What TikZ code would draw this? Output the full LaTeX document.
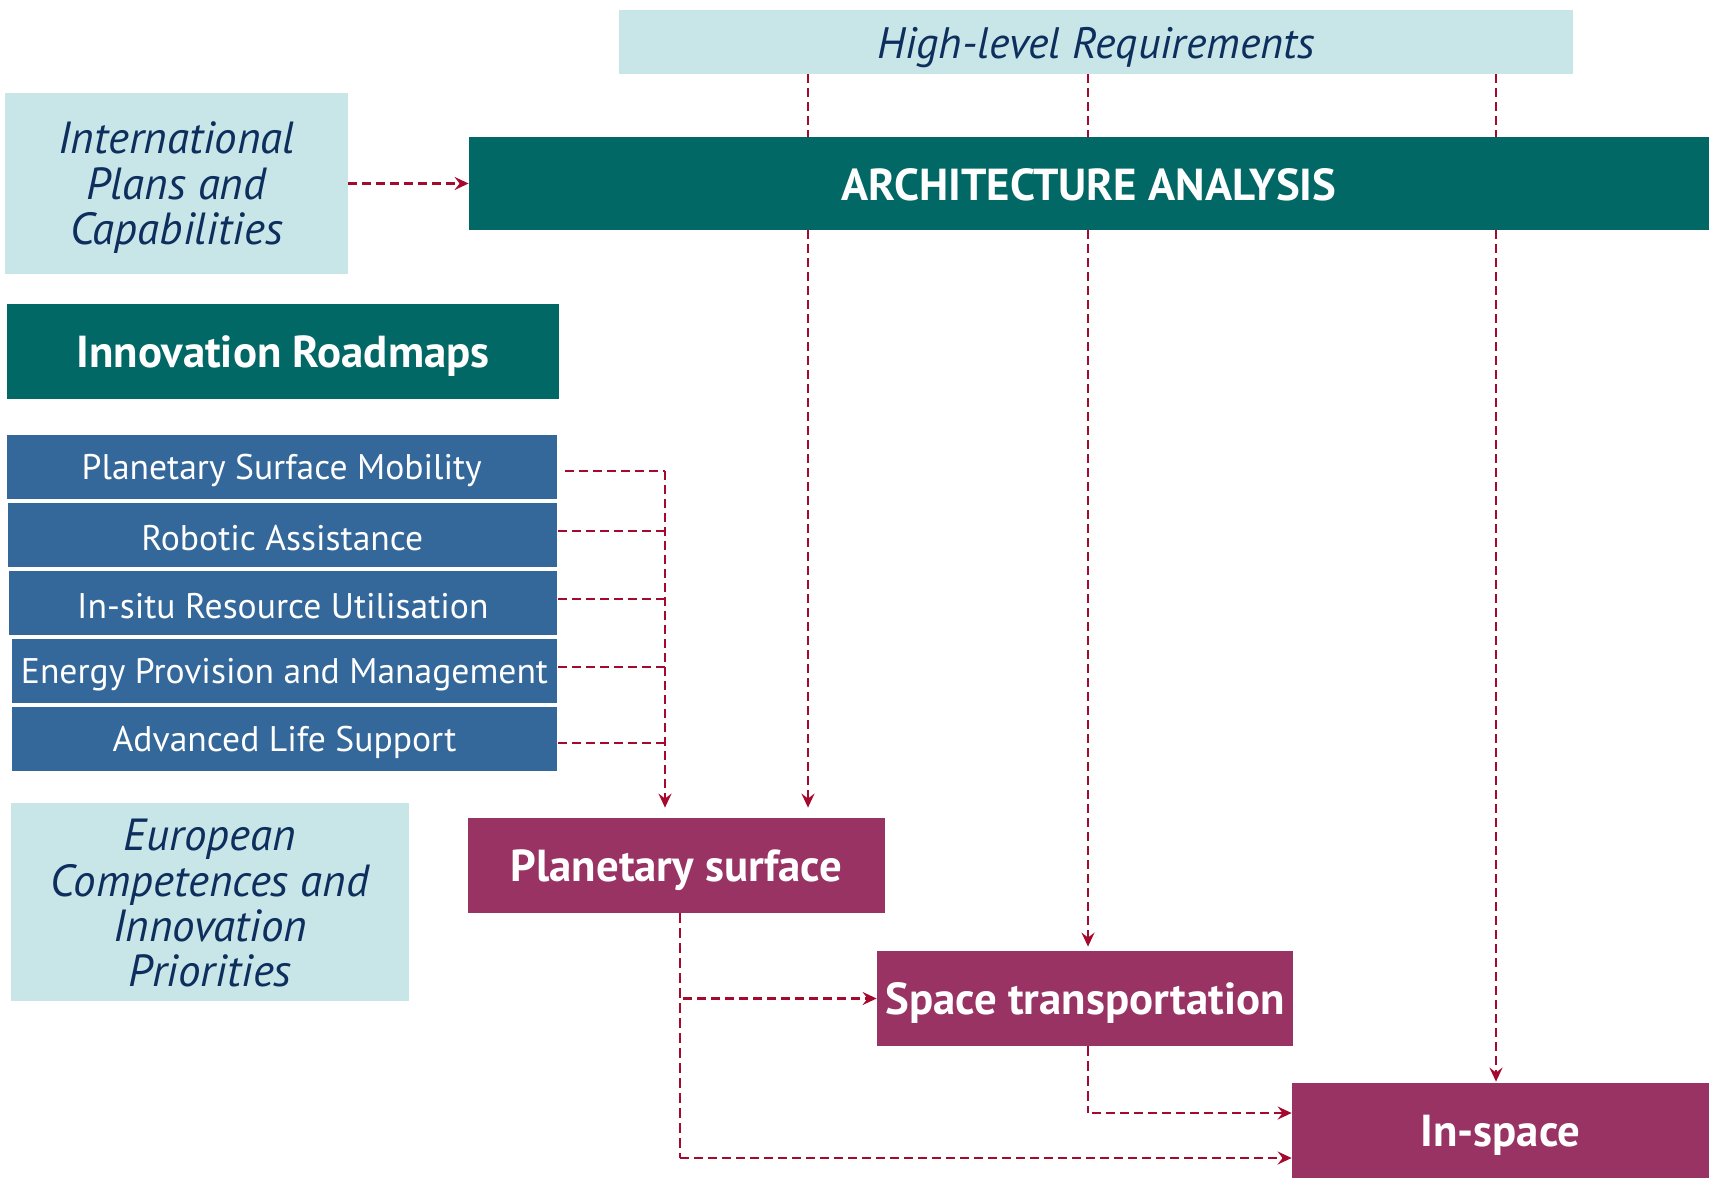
\documentclass[tikz,border=0pt]{standalone}
\usepackage{fontspec}
\setmainfont{PT Sans}
\usetikzlibrary{arrows.meta,calc}
\definecolor{lightc}{HTML}{C8E6E8}
\definecolor{tealc}{HTML}{016865}
\definecolor{bluec}{HTML}{34679A}
\definecolor{magc}{HTML}{983363}
\definecolor{redc}{HTML}{A50A2E}
\definecolor{navyc}{HTML}{0E2F5E}
\newcommand\lowertext[2]{\raisebox{-#1}[\height][\depth]{#2}}
\newcommand\stacklines[1]{\begin{tabular}{@{}c@{}}#1\end{tabular}}
\begin{document}
\begin{tikzpicture}[x=0.5pt,y=-0.5pt,
  box/.style={rectangle, inner sep=0pt, anchor=center, align=center},
  lightbox/.style={box, fill=lightc, text=navyc, font=\fontsize{22.5}{22.5}\selectfont\itshape},
  tealbox/.style={box, fill=tealc, text=white, font=\fontsize{22.4}{24}\selectfont\bfseries},
  bluebox/.style={box, fill=bluec, text=white, minimum height=32pt, font=\fontsize{17.8}{20}\selectfont},
  magbox/.style={box, fill=magc, text=white, minimum width=208.5pt, minimum height=47.5pt, font=\fontsize{22.4}{24}\selectfont\bfseries},
  dline/.style={draw=redc, line width=1.2pt, dash pattern=on 4.5pt off 2.5pt},
  thinline/.style={draw=redc, line width=0.7pt, dash pattern=on 5pt off 2.5pt},
  conn/.style={dline, -{Stealth[length=7pt, width=6.5pt, inset=2.5pt]}},
]
\useasboundingbox (0,0) rectangle (1713,1182);

% nodes
\node[lightbox, minimum width=477pt, minimum height=32pt, font=\fontsize{22}{22}\selectfont\itshape] (hlr) at (1096,42) {\lowertext{2.6pt}{High-level Requirements}};
\node[lightbox, minimum width=171.5pt, minimum height=90.5pt] (intl) at (176.5,183.5) {\lowertext{3.3pt}{\stacklines{International\\Plans and\\Capabilities}}};
\node[tealbox, minimum width=620pt, minimum height=46.5pt] (aa) at (1089,183.5) {\lowertext{0.6pt}{ARCHITECTURE ANALYSIS}};
\node[tealbox, minimum width=276pt, minimum height=47.5pt] (irm) at (283,351.5) {\lowertext{2.2pt}{Innovation Roadmaps}};
\node[bluebox, minimum width=275.25pt] (b1) at (281.75,467) {\lowertext{1.6pt}{Planetary Surface Mobility}};
\node[bluebox, minimum width=274.7pt] (b2) at (282.3,535) {\lowertext{1.6pt}{Robotic Assistance}};
\node[bluebox, minimum width=274.15pt] (b3) at (282.85,603) {\lowertext{1.6pt}{In-situ Resource Utilisation}};
\node[bluebox, minimum width=272.5pt] (b4) at (284.5,671) {\lowertext{1.6pt}{Energy Provision and Management}};
\node[bluebox, minimum width=272.5pt] (b5) at (284.5,739) {\lowertext{1.6pt}{Advanced Life Support}};
\node[lightbox, minimum width=199pt, minimum height=99pt] (euro) at (210,902) {\lowertext{3.8pt}{\stacklines{European\\Competences and\\Innovation\\Priorities}}};
\node[magbox] (ps) at (676.5,865.5) {\lowertext{2.2pt}{Planetary surface}};
\node[magbox, minimum width=208pt] (st) at (1085,998.5) {\lowertext{2.2pt}{Space transportation}};
\node[magbox] (is) at (1500.5,1130.5) {\lowertext{2.6pt}{In-space}};

% column positions
\coordinate (c1) at (808,0);
\coordinate (c2) at (1088,0);
\coordinate (c3) at (1496,0);
\coordinate (bus) at (665,0);
\coordinate (psx) at (680,0);

% international -> architecture
\draw[conn] (intl.east) -- (aa.west);

% high-level requirements -> architecture analysis -> outputs
\draw[dline] (hlr.south -| c1) -- (aa.north -| c1);
\draw[dline] (hlr.south -| c2) -- (aa.north -| c2);
\draw[dline] (hlr.south -| c3) -- (aa.north -| c3);
\draw[conn, shorten >=5pt] (aa.south -| c1) -- (ps.north -| c1);
\draw[conn, shorten >=2pt] (aa.south -| c2) -- (st.north -| c2);
\draw[conn, shorten >=0.5pt] (aa.south -| c3) -- (is.north -| c3);

% roadmaps bus
\coordinate (t1) at ([xshift=4pt,yshift=-2pt]b1.east);
\coordinate (t2) at ([xshift=0.5pt,yshift=2pt]b2.east);
\coordinate (t3) at ([xshift=0.5pt,yshift=2pt]b3.east);
\coordinate (t4) at ([xshift=0.5pt,yshift=2pt]b4.east);
\coordinate (t5) at ([xshift=0.5pt,yshift=-2pt]b5.east);
\draw[dline] (t1) -- (t1 -| bus);
\draw[dline] (t2) -- (t2 -| bus);
\draw[dline] (t3) -- (t3 -| bus);
\draw[dline] (t4) -- (t4 -| bus);
\draw[dline] (t5) -- (t5 -| bus);
\draw[conn, shorten >=5pt] (t1 -| bus) -- (ps.north -| bus);

% planetary surface -> space transportation / in-space
\coordinate (k1) at ([yshift=-13.75pt]is.west);
\draw[thinline] (ps.south -| psx) -- (psx |- k1);
\draw[conn] (psx |- k1) -- (k1);
\draw[conn] ([xshift=1.5pt]psx |- st.west) -- (st.west);

% space transportation -> in-space
\coordinate (k2) at ([yshift=8.75pt]is.west);
\draw[thinline] (st.south -| c2) -- (c2 |- k2);
\draw[conn] ([xshift=2pt]c2 |- k2) -- (k2);
\end{tikzpicture}
\end{document}
